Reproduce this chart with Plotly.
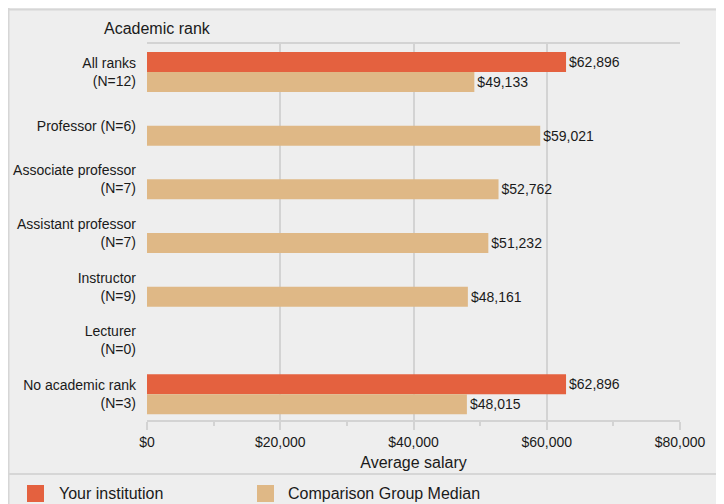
import plotly.graph_objects as go

categories = ["All ranks", "Professor", "Associate professor", "Assistant professor",
              "Instructor", "Lecturer", "No academic rank"]
tick_labels = ["All ranks<br>(N=12)", "Professor (N=6)", "Associate professor<br>(N=7)",
               "Assistant professor<br>(N=7)", "Instructor<br>(N=9)", "Lecturer<br>(N=0)",
               "No academic rank<br>(N=3)"]
your_institution = [62896, None, None, None, None, None, 62896]
comparison_median = [49133, 59021, 52762, 51232, 48161, None, 48015]
x_ticks = [0, 20000, 40000, 60000, 80000]
x_tick_labels = ["$0", "$20,000", "$40,000", "$60,000", "$80,000"]

ORANGE = "#e4613f"
TAN = "#dfb886"
BG = "#eeeeee"
GRID = "#d3d3d3"
BORDER = "#d6d6d6"
TXT = "#1a1a1a"
FONT = "Liberation Sans, Arial, sans-serif"

# figure is placed at (8, 8) in the page by the default body margin
W, H = 716, 496
L, R, T, B = 139, 44, 36, 84
PW, PH = W - L - R, H - T - B


def px(x):
    return (x - L) / PW


def py(y):
    return (H - B - y) / PH


fig = go.Figure()
fig.add_trace(go.Bar(
    name="Your institution", y=tick_labels, x=your_institution, orientation="h",
    marker=dict(color=ORANGE, line=dict(width=0)),
    texttemplate="$%{x:,}", textposition="outside", cliponaxis=False,
    textfont=dict(size=14, color=TXT, family=FONT),
))
fig.add_trace(go.Bar(
    name="Comparison Group Median", y=tick_labels, x=comparison_median, orientation="h",
    marker=dict(color=TAN, line=dict(width=0)),
    texttemplate="$%{x:,}", textposition="outside", cliponaxis=False,
    textfont=dict(size=14, color=TXT, family=FONT),
))

shapes = [
    # panel border (top and left)
    dict(type="line", xref="paper", yref="paper", x0=px(0), x1=px(W), y0=py(1.5), y1=py(1.5),
         line=dict(color=BORDER, width=2)),
    dict(type="line", xref="paper", yref="paper", x0=px(0.5), x1=px(0.5), y0=py(0), y1=py(H),
         line=dict(color=BORDER, width=2)),
    # legend separator
    dict(type="line", xref="paper", yref="paper", x0=px(0), x1=px(W), y0=py(466), y1=py(466),
         line=dict(color=BORDER, width=2)),
    # legend swatches
    dict(type="rect", xref="paper", yref="paper", x0=px(19), x1=px(36), y0=py(477), y1=py(494),
         fillcolor=ORANGE, line=dict(width=0)),
    dict(type="rect", xref="paper", yref="paper", x0=px(249), x1=px(266), y0=py(477), y1=py(494),
         fillcolor=TAN, line=dict(width=0)),
]

annotations = [
    dict(text="Academic rank", xref="paper", yref="paper", x=px(149.5), y=py(21),
         xanchor="center", yanchor="middle", showarrow=False,
         font=dict(size=16, color=TXT, family=FONT)),
    dict(text="Your institution", xref="paper", yref="paper", x=px(49), y=py(485.5),
         xanchor="left", yanchor="middle", showarrow=False,
         font=dict(size=16, color=TXT, family=FONT)),
    dict(text="Comparison Group Median", xref="paper", yref="paper", x=px(278), y=py(485.5),
         xanchor="left", yanchor="middle", showarrow=False,
         font=dict(size=16, color=TXT, family=FONT)),
]

fig.update_layout(
    width=W, height=H,
    margin=dict(l=L, r=R, t=T, b=B, pad=0, autoexpand=False),
    paper_bgcolor=BG, plot_bgcolor=BG,
    barmode="group", bargap=0.255, bargroupgap=0,
    showlegend=False,
    font=dict(family=FONT, size=14, color=TXT),
    shapes=shapes, annotations=annotations,
    xaxis=dict(
        range=[0, 80000], tickvals=x_ticks, ticktext=x_tick_labels,
        showgrid=True, gridcolor=GRID, gridwidth=2, zeroline=False,
        showline=True, linecolor=GRID, linewidth=2, mirror=True,
        ticks="outside", ticklen=8, tickwidth=2, tickcolor=GRID,
        minor=dict(dtick=10000, tick0=0, ticks="outside", ticklen=4, tickwidth=2,
                   tickcolor=GRID, showgrid=False),
        tickfont=dict(size=14, color=TXT, family=FONT),
        title=dict(text="Average salary", font=dict(size=16, color=TXT, family=FONT), standoff=8),
        automargin=False,
        fixedrange=True,
    ),
    yaxis=dict(
        range=[6.48, -0.52], showgrid=False, zeroline=False, showline=False,
        ticks="", ticklabelstandoff=10,
        tickfont=dict(size=14, color=TXT, family=FONT),
        automargin=False,
        fixedrange=True,
    ),
)

fig.write_html("out.html")
